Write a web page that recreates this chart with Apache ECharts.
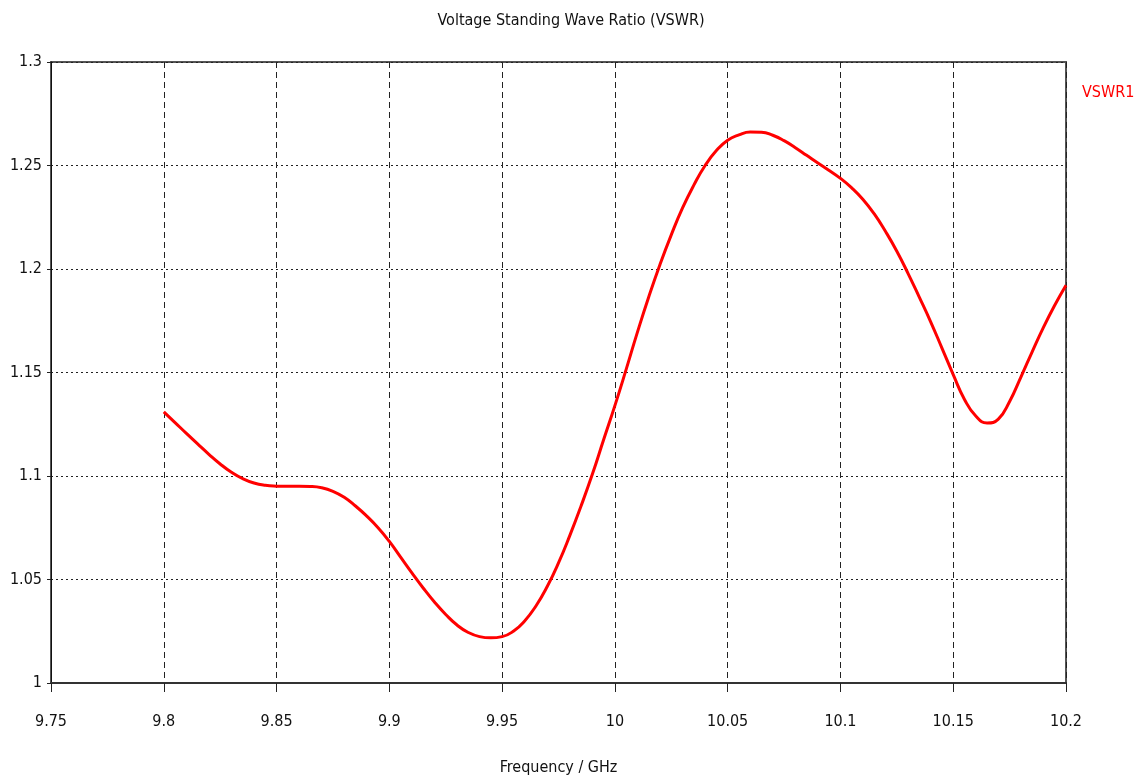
<!DOCTYPE html>
<html>
<head>
<meta charset="utf-8">
<script src="https://cdn.jsdelivr.net/npm/echarts@6/dist/echarts.min.js"></script>
<style>
html,body{margin:0;padding:0;background:#fff;}
#chart{width:1142px;height:784px;}
</style>
</head>
<body>
<div id="chart"></div>
<script>
const titleText = 'Voltage Standing Wave Ratio (VSWR)';
const xAxisName = 'Frequency / GHz';
const seriesName = 'VSWR1';
const freq = [9.800,9.805,9.810,9.815,9.820,9.825,9.830,9.835,9.840,9.845,9.850,9.855,9.860,9.865,9.870,9.875,9.880,9.885,9.890,9.895,9.900,9.905,9.910,9.915,9.920,9.925,9.930,9.935,9.940,9.945,9.950,9.955,9.960,9.965,9.970,9.975,9.980,9.985,9.990,9.995,10.000,10.005,10.010,10.015,10.020,10.025,10.030,10.035,10.040,10.045,10.050,10.055,10.060,10.065,10.070,10.075,10.080,10.085,10.090,10.095,10.100,10.105,10.110,10.115,10.120,10.125,10.130,10.135,10.140,10.145,10.150,10.155,10.160,10.165,10.170,10.175,10.180,10.185,10.190,10.195,10.200];
const vswr = [1.1310,1.1258,1.1206,1.1155,1.1105,1.1058,1.1018,1.0987,1.0966,1.0955,1.0951,1.0950,1.0950,1.0949,1.0943,1.0926,1.0897,1.0855,1.0806,1.0750,1.0684,1.0608,1.0532,1.0459,1.0391,1.0331,1.0280,1.0244,1.0224,1.0218,1.0224,1.0250,1.0300,1.0372,1.0466,1.0580,1.0712,1.0855,1.1008,1.1175,1.1340,1.1515,1.1695,1.1865,1.2022,1.2165,1.2295,1.2405,1.2500,1.2572,1.2622,1.2648,1.2662,1.2661,1.2646,1.2620,1.2586,1.2549,1.2512,1.2476,1.2438,1.2392,1.2336,1.2266,1.2181,1.2086,1.1978,1.1863,1.1745,1.1618,1.1490,1.1370,1.1290,1.1256,1.1275,1.1360,1.1478,1.1600,1.1718,1.1825,1.1922];
const xMin = 9.75, xMax = 10.2, xStep = 0.05;
const yMin = 1.0, yMax = 1.3, yStep = 0.05;

const FONT = "'DejaVu Sans Condensed','Liberation Sans Narrow',sans-serif";
const fmt = v => String(parseFloat(v.toFixed(2)));

const chart = echarts.init(document.getElementById('chart'), null, {renderer:'canvas'});
chart.setOption({
  animation: false,
  backgroundColor: '#fff',
  title: {
    text: titleText, left: 'center', top: 8,
    textStyle: {fontFamily: FONT, fontSize: 16, fontWeight: 'normal', color: '#111'}
  },
  legend: {
    data: [{name: seriesName, icon: 'none'}],
    left: 1072, top: 80, itemWidth: 0, itemGap: 0,
    textStyle: {fontFamily: FONT, fontSize: 16, color: '#ff0000'}
  },
  grid: {left: 51, right: 76, top: 62, bottom: 101, show: true, borderColor: '#555', borderWidth: 2, backgroundColor: '#fff'},
  xAxis: {
    type: 'value', min: xMin, max: xMax, interval: xStep,
    name: xAxisName, nameLocation: 'middle', nameGap: 77,
    nameTextStyle: {fontFamily: FONT, fontSize: 16, color: '#111'},
    axisLine: {show: true, onZero: false, lineStyle: {color: '#333', width: 2}},
    axisTick: {show: true, inside: false, length: 9, lineStyle: {color: '#222', width: 1}},
    axisLabel: {margin: 31, formatter: fmt, fontFamily: FONT, fontSize: 16, color: '#111'},
    splitLine: {show: true, lineStyle: {color: '#222', width: 1, type: [6, 4]}}
  },
  yAxis: {
    type: 'value', min: yMin, max: yMax, interval: yStep,
    axisLine: {show: true, onZero: false, lineStyle: {color: '#111', width: 1}},
    axisTick: {show: true, inside: false, length: 4, lineStyle: {color: '#222', width: 1}},
    axisLabel: {margin: 9, formatter: fmt, fontFamily: FONT, fontSize: 16, color: '#111'},
    splitLine: {show: true, lineStyle: {color: '#222', width: 1.2, type: [2, 3]}}
  },
  series: [{
    name: seriesName, type: 'line', smooth: true, showSymbol: false, symbol: 'none',
    data: freq.map((f, i) => [f, vswr[i]]),
    lineStyle: {color: '#ff0000', width: 3},
    itemStyle: {color: '#ff0000'}
  }]
});
</script>
</body>
</html>
